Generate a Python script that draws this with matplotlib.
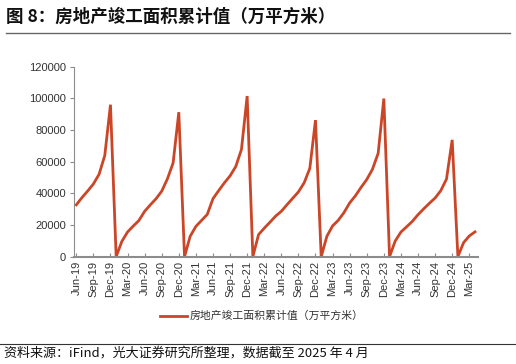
import numpy as np
import matplotlib
matplotlib.use("Agg")
import matplotlib.pyplot as plt
from matplotlib.lines import Line2D

plt.rcParams['font.family'] = ['Liberation Sans', 'Noto Sans CJK SC', 'DejaVu Sans']

# months Jun-19 .. Apr-25, cumulative completed floor area (10k m2); Jan shown as 0
months = ['Jun', 'Jul', 'Aug', 'Sep', 'Oct', 'Nov', 'Dec'] + \
    ['Jan', 'Feb', 'Mar', 'Apr', 'May', 'Jun', 'Jul', 'Aug', 'Sep', 'Oct', 'Nov', 'Dec'] * 5 + \
    ['Jan', 'Feb', 'Mar', 'Apr']
years = ['19'] * 7 + ['20'] * 12 + ['21'] * 12 + ['22'] * 12 + ['23'] * 12 + ['24'] * 12 + ['25'] * 4
values = [32696, 37311, 41446, 45874, 52011, 63847, 95942,
          0, 9636, 15557, 19286, 22853, 28621, 32713, 36543, 41337, 49128, 59173, 91218,
          0, 12885, 19091, 22880, 26693, 36590, 41692, 46574, 51013, 56912, 67720, 101412,
          0, 13906, 17964, 21709, 25585, 28636, 32794, 36857, 40879, 46565, 55709, 86222,
          0, 12873, 19422, 22946, 27826, 33904, 38405, 43726, 48705, 55151, 65237, 99831,
          0, 9896, 15530, 18856, 22245, 26519, 30193, 33715, 37017, 41701, 48984, 73743,
          0, 8839, 13060, 15648]
labels = [m + '-' + y for m, y in zip(months, years)]
series_name = '房地产竣工面积累计值（万平方米）'

red = '#CB4527'
grey = '#8C8C8C'

fig = plt.figure(figsize=(5.16, 3.64), dpi=100)
ax = fig.add_axes([0.144, 0.295, 0.782, 0.522])

x = np.arange(len(values))
ax.plot(x, values, color=red, lw=2.0, solid_joinstyle='miter')

ax.set_xlim(-0.35, len(values) - 0.5)
ax.set_ylim(0, 120000)
ax.set_yticks(np.arange(0, 120001, 20000))
ax.set_yticklabels([str(v) for v in range(0, 120001, 20000)], fontsize=8, color='#333333')
ax.set_xticks(x[::3])
ax.set_xticklabels(labels[::3], rotation=90, fontsize=8, color='#333333')

for s in ['top', 'right']:
    ax.spines[s].set_visible(False)
ax.spines['left'].set_color(grey)
ax.spines['bottom'].set_color(grey)
ax.spines['bottom'].set_linewidth(1.5)
ax.tick_params(axis='both', colors=grey, length=3, width=0.8, labelcolor='#333333')
ax.tick_params(axis='x', direction='in', length=3, pad=3)
ax.tick_params(axis='y', direction='out', length=3, pad=3)

# legend
fig.add_artist(Line2D([160 / 516, 187 / 516], [1 - 316 / 364, 1 - 316 / 364], color=red, lw=2.0))
fig.text(190 / 516, 1 - 316 / 364, series_name, fontsize=7.8, va='center', color='#333333',
         family=['Noto Sans CJK SC', 'DejaVu Sans'])

# title and frame lines
fig.text(6 / 516, 1 - 17 / 364, '图 8：房地产竣工面积累计值（万平方米）', fontsize=12.6, fontweight='bold',
         va='center', color='#111111', family=['Noto Sans CJK SC', 'DejaVu Sans'])
fig.add_artist(Line2D([6 / 516, 510 / 516], [1 - 33 / 364, 1 - 33 / 364], color='#666666', lw=1.0))
fig.add_artist(Line2D([0, 1], [1 - 344 / 364, 1 - 344 / 364], color='#333333', lw=0.8))
fig.text(4 / 516, 1 - 353 / 364, '资料来源：iFind，光大证券研究所整理，数据截至 2025 年 4 月', fontsize=9.4,
         va='center', color='#111111', family=['Noto Sans CJK SC', 'DejaVu Sans'])

fig.savefig('out.png', dpi=100)
